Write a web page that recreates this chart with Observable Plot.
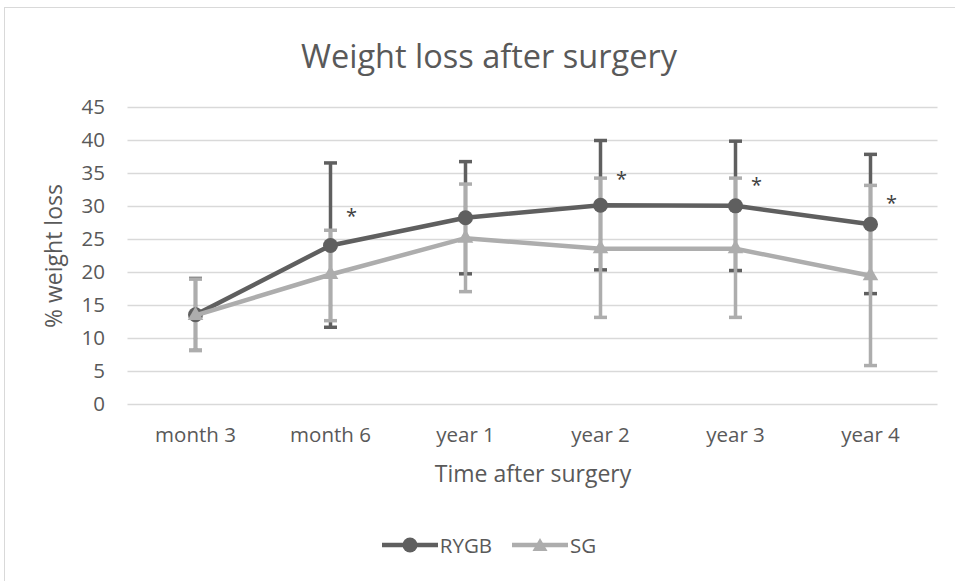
<!DOCTYPE html>
<html><head><meta charset="utf-8">
<script src="https://cdn.jsdelivr.net/npm/d3@7"></script>
<script src="https://cdn.jsdelivr.net/npm/@observablehq/plot@0.6"></script>
<style>
body{margin:0;background:#fff;font-family:"Open Sans",sans-serif;}
#frame{position:absolute;left:4px;top:7px;width:970px;height:600px;border:1px solid #d9d9d9;box-sizing:border-box;}
#title{position:absolute;left:4px;width:970px;top:40px;text-align:center;font-size:32.5px;line-height:1;color:#595959;white-space:nowrap;}
#chart{position:absolute;left:0;top:0;}
#legend{position:absolute;left:4px;width:970px;top:530px;height:30px;display:flex;justify-content:center;align-items:center;font-size:20.5px;color:#595959;}
#legend svg{display:block;}
</style></head>
<body>
<div id="frame"></div>
<div id="title">Weight loss after surgery</div>
<div id="chart"></div>
<div id="legend"></div>
<script>
const categories = ["month 3", "month 6", "year 1", "year 2", "year 3", "year 4"];
const seriesNames = ["RYGB", "SG"];
const rygbMean = [13.6, 24.1, 28.3, 30.2, 30.1, 27.3];
const rygbLow  = [8.2, 11.7, 19.8, 20.4, 20.3, 16.8];
const rygbHigh = [19.1, 36.6, 36.8, 40.0, 39.9, 37.9];
const sgMean = [13.5, 19.7, 25.2, 23.6, 23.6, 19.5];
const sgLow  = [8.2, 12.7, 17.1, 13.2, 13.2, 5.9];
const sgHigh = [19.0, 26.4, 33.4, 34.3, 34.3, 33.2];
const starCategories = ["month 6", "year 2", "year 3", "year 4"];
const starY = [28.8, 34.4, 33.5, 30.8];
const yTicks = [0, 5, 10, 15, 20, 25, 30, 35, 40, 45];

const DARK = "#5f5f5f", LIGHT = "#adadad", TEXT = "#595959";

const mk = (name, mean, low, high) => categories.map((c, i) => ({series: name, cat: c, mean: mean[i], low: low[i], high: high[i]}));
const rygb = mk(seriesNames[0], rygbMean, rygbLow, rygbHigh);
const sg = mk(seriesNames[1], sgMean, sgLow, sgHigh);
const stars = starCategories.map((c, i) => ({cat: c, y: starY[i]}));

const cap = {draw(ctx) { const w = 6.5; ctx.moveTo(-w, 0); ctx.lineTo(w, 0); }};

const errMarks = (data, color) => [
  Plot.ruleX(data, {x: "cat", y1: "low", y2: "high", stroke: color, strokeWidth: 3.5}),
  Plot.dot(data, {x: "cat", y: "low", symbol: cap, fill: "none", stroke: color, strokeWidth: 3.5}),
  Plot.dot(data, {x: "cat", y: "high", symbol: cap, fill: "none", stroke: color, strokeWidth: 3.5})
];

const plot = Plot.plot({
  width: 955,
  height: 500,
  marginTop: 107,
  marginBottom: 96,
  marginLeft: 127.5,
  marginRight: 17.5,
  style: {background: "transparent", fontFamily: "Open Sans, sans-serif", fontSize: "20.5px", color: TEXT},
  x: {type: "point", domain: categories, padding: 0.5},
  y: {domain: [0, 45]},
  marks: [
    Plot.gridY(yTicks, {stroke: "#d9d9d9", strokeOpacity: 1, strokeWidth: 1.3}),
    Plot.axisY({ticks: yTicks, tickSize: 0, tickPadding: 23, label: null, fontSize: 20.5}),
    Plot.axisX({tickSize: 0, tickPadding: 23, label: null, fontSize: 20.5}),
    ...errMarks(rygb, DARK),
    ...errMarks(sg, LIGHT),
    Plot.line(rygb, {x: "cat", y: "mean", stroke: DARK, strokeWidth: 4.5}),
    Plot.dot(rygb, {x: "cat", y: "mean", r: 7.5, fill: DARK}),
    Plot.line(sg, {x: "cat", y: "mean", stroke: LIGHT, strokeWidth: 4.5}),
    Plot.dot(sg, {x: "cat", y: "mean", r: 5.8, symbol: "triangle", fill: LIGHT}),
    Plot.text(stars, {x: "cat", y: "y", text: () => "*", dx: 21, dy: 2, fontSize: 20, fill: "#404040"}),
    Plot.text(["% weight loss"], {frameAnchor: "left", rotate: -90, dx: -73, textAnchor: "middle", lineAnchor: "middle", fontSize: 23, fill: TEXT}),
    Plot.text(["Time after surgery"], {frameAnchor: "bottom", dy: 70, textAnchor: "middle", lineAnchor: "middle", fontSize: 23, fill: TEXT})
  ]
});
document.getElementById("chart").appendChild(plot);

const legend = document.getElementById("legend");
const swatch = (name, color, marker) => {
  const ns = "http://www.w3.org/2000/svg";
  const s = document.createElementNS(ns, "svg");
  s.setAttribute("width", 56); s.setAttribute("height", 20);
  s.innerHTML = `<line x1="0" x2="56" y1="10" y2="10" stroke="${color}" stroke-width="4.5"/>` +
    (marker === "circle"
      ? `<circle cx="28" cy="10" r="7.5" fill="${color}"/>`
      : `<polygon points="28,3 35.5,16 20.5,16" fill="${color}"/>`);
  const label = document.createElement("span");
  label.textContent = name;
  label.style.marginLeft = "2px";
  const wrap = document.createElement("div");
  wrap.style.display = "flex"; wrap.style.alignItems = "center";
  wrap.appendChild(s); wrap.appendChild(label);
  return wrap;
};
const l1 = swatch(seriesNames[0], DARK, "circle");
const l2 = swatch(seriesNames[1], LIGHT, "triangle");
l2.style.marginLeft = "20px";
legend.appendChild(l1); legend.appendChild(l2);
</script>
</body></html>
